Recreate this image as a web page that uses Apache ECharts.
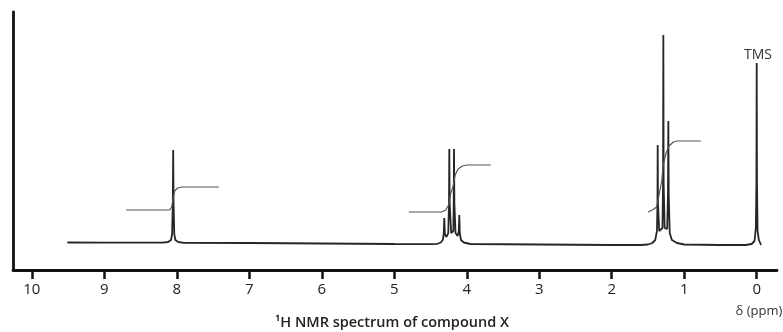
<!DOCTYPE html>
<html>
<head>
<meta charset="utf-8">
<script src="https://cdn.jsdelivr.net/npm/echarts@6/dist/echarts.min.js"></script>
<style>
html,body{margin:0;padding:0;background:#fff;}
#chart{width:783px;height:332px;}
</style>
</head>
<body>
<div id="chart"></div>
<script>
// Tick labels (ppm)
const tickValues = [10, 9, 8, 7, 6, 5, 4, 3, 2, 1, 0];

// Spectrum trace: [ppm, intensity above baseline]
const spectrum = [
  [9.51, 0.5], [9.0, 0.4], [8.6, 0.3], [8.20, 0.3], [8.12, 1], [8.08, 3], [8.065, 9], [8.055, 40], [8.05, 93],
  [8.045, 40], [8.035, 9], [8.02, 3], [7.98, 1], [7.90, 0.2],
  [7.0, 0], [6.0, -0.5], [5.0, -1], [4.50, -1.2], [4.40, -0.8], [4.36, 0.5], [4.33, 3], [4.318, 9], [4.31, 25],
  [4.302, 9], [4.28, 6], [4.255, 10], [4.245, 40], [4.241, 94], [4.236, 40], [4.215, 10], [4.205, 9],
  [4.185, 12], [4.18, 40], [4.176, 94], [4.171, 40], [4.155, 10], [4.125, 7], [4.11, 12], [4.103, 28],
  [4.096, 10], [4.08, 3], [4.04, 0.5], [3.95, -1], [3.0, -1.5], [2.0, -2], [1.60, -2], [1.50, -1.5],
  [1.44, 0], [1.40, 3], [1.376, 12], [1.369, 40], [1.366, 98], [1.362, 40], [1.345, 12], [1.30, 15],
  [1.292, 60], [1.288, 208], [1.284, 60], [1.27, 15], [1.235, 14], [1.224, 50], [1.219, 122],
  [1.214, 50], [1.20, 10], [1.17, 3], [1.10, 0], [1.0, -1.5], [0.5, -2], [0.15, -2], [0.07, -1],
  [0.03, 2], [0.012, 15], [0.004, 60], [0.0, 180], [-0.004, 60], [-0.012, 12], [-0.03, 3], [-0.06, -2]
];

// Integration curves: [ppm, height above baseline]
const integral1 = [
  [8.70, 33], [8.10, 33], [8.07, 36], [8.05, 45], [8.03, 52], [7.99, 55], [7.92, 56], [7.42, 56]
];
const integral2 = [
  [4.80, 31], [4.35, 31], [4.29, 33], [4.25, 38], [4.22, 50], [4.19, 56], [4.16, 68],
  [4.12, 74], [4.06, 77], [4.00, 78], [3.67, 78]
];
const integral3 = [
  [1.50, 31], [1.44, 33], [1.38, 36], [1.35, 47], [1.31, 62], [1.29, 78], [1.25, 90],
  [1.21, 97], [1.15, 101], [1.10, 102], [0.77, 102]
];

const labelTMS = 'TMS';
const labelAxis = 'δ (ppm)';
const labelTitle = '¹H NMR spectrum of compound X';

const chart = echarts.init(document.getElementById('chart'), null, {renderer: 'canvas'});
const textFont = '"Open Sans", "Liberation Sans", sans-serif';

chart.setOption({
  backgroundColor: '#ffffff',
  animation: false,
  grid: {left: 13, right: 6, top: 12, bottom: 62, containLabel: false, outerBoundsMode: 'none'},
  xAxis: {
    type: 'value', min: -0.28, max: 10.26, inverse: true,
    axisLine: {show: true, onZero: false, lineStyle: {color: '#111', width: 2.8}},
    axisTick: {show: true, customValues: tickValues, length: 9, lineStyle: {color: '#111', width: 2.5}},
    axisLabel: {show: true, customValues: tickValues, margin: 12, fontSize: 15, color: '#222',
      fontFamily: textFont, formatter: v => String(v)},
    splitLine: {show: false}
  },
  yAxis: {
    type: 'value', min: -27, max: 231, position: 'left',
    axisLine: {show: true, onZero: false, lineStyle: {color: '#111', width: 2.8}},
    axisTick: {show: false}, axisLabel: {show: false}, splitLine: {show: false}
  },
  series: [
    {type: 'line', data: spectrum, symbol: 'none', smooth: false, lineStyle: {color: '#262626', width: 1.8}},
    {type: 'line', data: integral1, symbol: 'none', smooth: false, lineStyle: {color: '#555', width: 1.2}},
    {type: 'line', data: integral2, symbol: 'none', smooth: false, lineStyle: {color: '#555', width: 1.2}},
    {type: 'line', data: integral3, symbol: 'none', smooth: false, lineStyle: {color: '#555', width: 1.2}}
  ],
  graphic: [
    {type: 'text', x: 758, y: 55, style: {text: labelTMS, fontSize: 14, fontFamily: textFont, fill: '#333', align: 'center', verticalAlign: 'middle'}},
    {type: 'text', x: 759, y: 311, style: {text: labelAxis, fontSize: 13, fontFamily: textFont, fill: '#333', align: 'center', verticalAlign: 'middle'}},
    {type: 'text', x: 392, y: 323, style: {text: labelTitle, fontSize: 14.5, fontWeight: 600, fontFamily: textFont, fill: '#222', align: 'center', verticalAlign: 'middle'}}
  ]
});
</script>
</body>
</html>
